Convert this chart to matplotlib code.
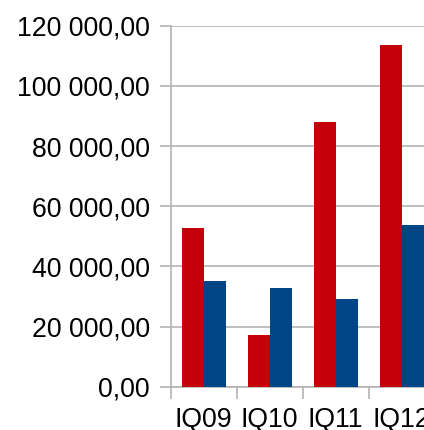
import matplotlib
matplotlib.use("Agg")
import matplotlib.pyplot as plt
from matplotlib.ticker import FuncFormatter, MultipleLocator
import numpy as np

# data
quarters = ["IQ09", "IQ10", "IQ11", "IQ12"]
series_red = [52750, 17200, 88000, 113600]
series_blue = [35100, 32800, 29150, 53750]

RED = "#c5000b"
BLUE = "#004586"
GRID = "#b3b3b3"

plt.rcParams["font.family"] = ["Liberation Sans", "DejaVu Sans"]

fig = plt.figure(figsize=(4.24, 4.30), dpi=100)
# axes runs past the right edge, as in the cropped reference
ax = fig.add_axes([170.7 / 424, 43.3 / 430, 264 / 424, 361 / 430])

x = np.arange(len(quarters))
w = 1 / 3
ax.bar(x - w / 2, series_red, width=w, color=RED, zorder=3)
ax.bar(x + w / 2, series_blue, width=w, color=BLUE, zorder=3)

ax.set_xlim(-0.5, len(quarters) - 0.5)
ax.set_ylim(0, 120000)
ax.yaxis.set_major_locator(MultipleLocator(20000))


def fmt(v, pos):
    s = f"{v:,.2f}"
    return s.replace(",", " ").replace(".", ",")


ax.yaxis.set_major_formatter(FuncFormatter(fmt))
ax.set_xticks(x)
ax.set_xticklabels(quarters)
ax.set_xticks(np.arange(len(quarters) + 1) - 0.5, minor=True)

ax.grid(axis="y", color=GRID, linewidth=1.2, zorder=0)
for side in ["top", "right"]:
    ax.spines[side].set_visible(False)
for side in ["left", "bottom"]:
    ax.spines[side].set_color(GRID)
    ax.spines[side].set_linewidth(1.2)

ax.tick_params(axis="y", length=8, width=1.2, color=GRID, pad=7, labelsize=19.2)
ax.tick_params(axis="x", which="major", length=0, pad=14.5, labelsize=19.2)
ax.tick_params(axis="x", which="minor", length=8.5, width=1.2, color=GRID)

fig.savefig("out.png", dpi=100)
